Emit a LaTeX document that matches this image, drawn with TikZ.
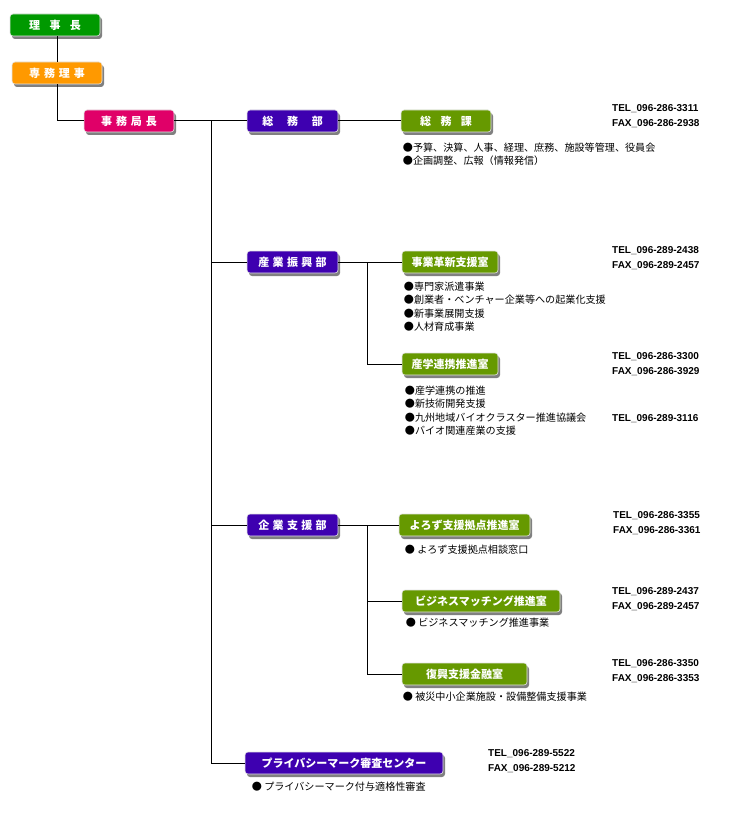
\documentclass[tikz,border=0pt]{standalone}
\usepackage{fontspec}
\setmainfont{Noto Sans CJK JP}
\newfontfamily\telfont{Liberation Sans}
\usepackage{tikz}
\usetikzlibrary{shapes,arrows,shadows}
\definecolor{chairgreen}{RGB}{0,153,0}
\definecolor{senmuorange}{RGB}{255,153,0}
\definecolor{kyokupink}{RGB}{224,0,104}
\definecolor{deptviolet}{RGB}{62,0,176}
\definecolor{officeolive}{RGB}{102,153,0}
\tikzstyle{unitblock} = [rectangle, rounded corners = 3pt, draw = gray!20, line width = 0.6pt, text = white, font = \fontsize{11}{11}\selectfont\bfseries, minimum height = 22pt, inner sep = 0pt, drop shadow = {shadow xshift = 2pt, shadow yshift = -3pt, fill = gray, opacity = 1}]
\tikzstyle{execblock} = [unitblock, minimum width = 90pt]
\tikzstyle{deptblock} = [unitblock, fill = deptviolet, minimum width = 91pt]
\tikzstyle{officeblock} = [unitblock, fill = officeolive]
\tikzstyle{noteblock} = [anchor = north west, inner sep = 0pt, align = left, font = \fontsize{10.1}{13.5}\selectfont]
\tikzstyle{telblock} = [anchor = north west, inner sep = 0pt, align = left, font = \telfont\fontsize{10}{15}\selectfont\bfseries]
\tikzstyle{line} = [draw, line width = 1pt]

\begin{document}
\begin{tikzpicture}
\useasboundingbox [fill = white] (0,0) rectangle (740pt,-829pt);
% executives
\node [execblock, fill = chairgreen] (chair) at (55pt,-25pt) {理\hspace{0.85em}事\hspace{0.85em}長};
\node [execblock, fill = senmuorange, below of = chair, node distance = 48pt, xshift = 2pt] (senmu) {専\hspace{0.35em}務\hspace{0.35em}理\hspace{0.35em}事};
\node [execblock, fill = kyokupink, below of = senmu, node distance = 48pt, xshift = 72pt] (kyoku) {事\hspace{0.35em}務\hspace{0.35em}局\hspace{0.35em}長};
\coordinate [right of = kyoku, node distance = 82pt] (trunk);
% departments
\node [deptblock, right of = kyoku, node distance = 163.5pt] (soumubu) {総\hspace{1.25em}務\hspace{1.25em}部};
\node [deptblock, below of = soumubu, node distance = 141pt] (sangyo) {産\hspace{0.3em}業\hspace{0.3em}振\hspace{0.3em}興\hspace{0.3em}部};
\node [deptblock, below of = sangyo, node distance = 263pt] (kigyo) {企\hspace{0.3em}業\hspace{0.3em}支\hspace{0.3em}援\hspace{0.3em}部};
\node [deptblock, below of = kigyo, node distance = 238pt, xshift = 51.5pt, minimum width = 198pt] (pmark) {プライバシーマーク審査センター};
\coordinate [right of = sangyo, node distance = 75pt] (sangyobr);
\coordinate [right of = kigyo, node distance = 75pt] (kigyobr);
% offices
\node [officeblock, right of = soumubu, node distance = 153.5pt, minimum width = 90pt] (soumuka) {総\hspace{0.85em}務\hspace{0.85em}課};
\node [officeblock, right of = sangyo, node distance = 157.5pt, minimum width = 96pt] (kakushin) {事業革新支援室};
\node [officeblock, below of = kakushin, node distance = 102pt, minimum width = 96pt] (sangaku) {産学連携推進室};
\node [officeblock, right of = kigyo, node distance = 172pt, minimum width = 131pt] (yorozu) {よろず支援拠点推進室};
\node [officeblock, below of = yorozu, node distance = 76pt, xshift = 16.5pt, minimum width = 158pt] (matching) {ビジネスマッチング推進室};
\node [officeblock, below of = matching, node distance = 73pt, xshift = -16.5pt, minimum width = 125pt] (fukko) {復興支援金融室};
% connectors
\draw [line] (senmu.north) -- (senmu.north |- chair.south);
\draw [line] (senmu.south) |- (kyoku.west);
\draw [line] (kyoku.east) -- (soumubu.west);
\draw [line] (trunk) |- (pmark.west);
\draw [line] (trunk |- sangyo.west) -- (sangyo.west);
\draw [line] (trunk |- kigyo.west) -- (kigyo.west);
\draw [line] (soumubu.east) -- (soumuka.west);
\draw [line] (sangyo.east) -- (kakushin.west);
\draw [line] (sangyobr) |- (sangaku.west);
\draw [line] (kigyo.east) -- (yorozu.west);
\draw [line] (kigyobr) |- (matching.west);
\draw [line] (kigyobr) |- (fukko.west);
% duties
\node [noteblock] (soumukanote) at ([shift = {(2pt,-10pt)}]soumuka.south west) {●予算、決算、人事、経理、庶務、施設等管理、役員会\\●企画調整、広報（情報発信）};
\node [noteblock] (kakushinnote) at ([shift = {(2pt,-8pt)}]kakushin.south west) {●専門家派遣事業\\●創業者・ベンチャー企業等への起業化支援\\●新事業展開支援\\●人材育成事業};
\node [noteblock] (sangakunote) at ([shift = {(3pt,-10pt)}]sangaku.south west) {●産学連携の推進\\●新技術開発支援\\●九州地域バイオクラスター推進協議会\\●バイオ関連産業の支援};
\node [noteblock] (yorozunote) at ([shift = {(6pt,-9pt)}]yorozu.south west) {●\ よろず支援拠点相談窓口};
\node [noteblock] (matchingnote) at ([shift = {(4pt,-5pt)}]matching.south west) {●\ ビジネスマッチング推進事業};
\node [noteblock] (fukkonote) at ([shift = {(1pt,-6pt)}]fukko.south west) {●\ 被災中小企業施設・設備整備支援事業};
\node [noteblock] (pmarknote) at ([shift = {(7pt,-7pt)}]pmark.south west) {●\ プライバシーマーク付与適格性審査};
% phone numbers
\node [telblock] (soumukatel) at (612pt,-104pt) {TEL\_096-286-3311\\FAX\_096-286-2938};
\node [telblock] (kakushintel) at (612pt,-246pt) {TEL\_096-289-2438\\FAX\_096-289-2457};
\node [telblock] (sangakutel) at (612pt,-352pt) {TEL\_096-286-3300\\FAX\_096-286-3929};
\node [telblock] (biotel) at (612pt,-414pt) {TEL\_096-289-3116};
\node [telblock] (yorozutel) at (613pt,-511pt) {TEL\_096-286-3355\\FAX\_096-286-3361};
\node [telblock] (matchingtel) at (612pt,-587pt) {TEL\_096-289-2437\\FAX\_096-289-2457};
\node [telblock] (fukkotel) at (612pt,-659pt) {TEL\_096-286-3350\\FAX\_096-286-3353};
\node [telblock] (pmarktel) at (488pt,-749pt) {TEL\_096-289-5522\\FAX\_096-289-5212};
\end{tikzpicture}
\end{document}
